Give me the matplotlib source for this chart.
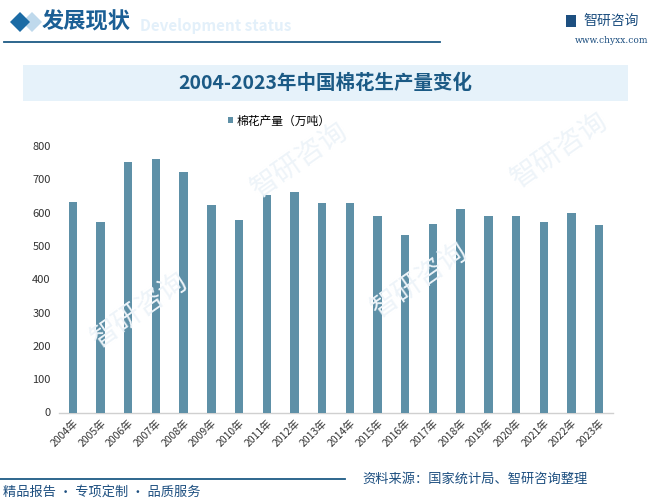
import matplotlib
matplotlib.use("Agg")
import matplotlib.pyplot as plt
from matplotlib.patches import Rectangle, Polygon

plt.rcParams['font.family'] = ['Noto Sans CJK SC', 'DejaVu Sans']

years = ["2004年", "2005年", "2006年", "2007年", "2008年", "2009年", "2010年",
         "2011年", "2012年", "2013年", "2014年", "2015年", "2016年", "2017年",
         "2018年", "2019年", "2020年", "2021年", "2022年", "2023年"]
production = [632.4, 571.4, 753.3, 759.7, 723.2, 623.6, 577.0, 651.9, 660.8, 628.2,
              629.9, 590.7, 534.3, 565.3, 610.3, 588.9, 591.1, 573.1, 598.0, 561.8]
yticks = [0, 100, 200, 300, 400, 500, 600, 700, 800]

W, H = 654, 501
fig = plt.figure(figsize=(W / 100, H / 100), dpi=100)
fig.patch.set_facecolor("white")

def fx(x):
    return x / W

def fy(y):
    return 1 - y / H

# watermarks (very faint)
for (x, y) in [(140, 310), (420, 280), (560, 150), (300, 160)]:
    fig.text(fx(x), fy(y), "智研咨询", fontsize=20, color="#EEF4F9", rotation=35,
             ha="center", va="center", zorder=0)

# header
fig.patches.append(Polygon([(fx(22), fy(22)), (fx(32), fy(12)), (fx(42), fy(22)), (fx(32), fy(32))],
                           closed=True, transform=fig.transFigure, facecolor="#BFD9EC",
                           edgecolor="none", zorder=1))
fig.patches.append(Polygon([(fx(10), fy(22)), (fx(20), fy(12)), (fx(30), fy(22)), (fx(20), fy(32))],
                           closed=True, transform=fig.transFigure, facecolor="#1B6BA5",
                           edgecolor="none", zorder=2))
fig.text(fx(140), fy(26), "Development status", fontsize=11, fontweight="bold",
         color="#E3F0FA", ha="left", va="center", zorder=1)
fig.text(fx(42), fy(22), "发展现状", fontsize=16, fontweight="bold", color="#1B5F95",
         ha="left", va="center", zorder=2)
fig.add_artist(plt.Line2D([fx(4), fx(440)], [fy(41.5), fy(41.5)], color="#1D5A85", lw=1.3,
                          transform=fig.transFigure))
fig.text(fx(583), fy(21), "智研咨询", fontsize=10, color="#1D4F80", ha="left", va="center")
fig.patches.append(Rectangle((fx(566), fy(27)), 10 / W, 12 / H, transform=fig.transFigure,
                             facecolor="#1D4F80", edgecolor="none"))
fig.text(fx(612), fy(41), "www.chyxx.com", fontsize=6.5, color="#1D4F80", ha="center",
         va="center", family="DejaVu Serif")

# title band
fig.patches.append(Rectangle((fx(23), fy(101)), 605 / W, 36 / H, transform=fig.transFigure,
                             facecolor="#E6F2FA", edgecolor="none", zorder=1))
fig.text(fx(325), fy(83.5), "2004-2023年中国棉花生产量变化", fontsize=14, fontweight="bold",
         color="#1B5A85", ha="center", va="center", zorder=3)

# axes
ax = fig.add_axes([fx(59), fy(412.5), (613 - 59) / W, (412.5 - 146) / H])
ax.set_facecolor("none")
x = list(range(len(years)))
ax.bar(x, production, width=0.3, color="#5E90A7", label="棉花产量（万吨）", zorder=3)
ax.set_xlim(-0.5, len(years) - 0.5)
ax.set_ylim(0, 800)
ax.set_yticks(yticks)
ax.set_yticklabels([str(v) for v in yticks], fontsize=8, color="#333333")
ax.set_xticks(x)
ax.set_xticklabels(years, rotation=45, ha="right", rotation_mode="anchor", fontsize=7.5,
                   color="#333333")
ax.tick_params(axis="both", length=0, pad=6)
ax.tick_params(axis="x", pad=4)
for s in ["top", "right", "left"]:
    ax.spines[s].set_visible(False)
ax.spines["bottom"].set_color("#D0D0D0")
ax.spines["bottom"].set_linewidth(1)

leg = fig.legend(loc="center", bbox_to_anchor=(fx(279), fy(121)), frameon=False, fontsize=8.5,
                 handlelength=0.45, handleheight=0.45, handletextpad=0.3)

# footer
fig.add_artist(plt.Line2D([fx(0), fx(345)], [fy(479), fy(479)], color="#1D5A85", lw=1.3,
                          transform=fig.transFigure))
fig.text(fx(362), fy(479), "资料来源：国家统计局、智研咨询整理", fontsize=9.5, color="#1D4F80",
         ha="left", va="center")
fig.text(fx(3), fy(492), "精品报告 · 专项定制 · 品质服务", fontsize=9.5, color="#1D4F80",
         ha="left", va="center")

fig.savefig("out.png", dpi=100, facecolor="white")
